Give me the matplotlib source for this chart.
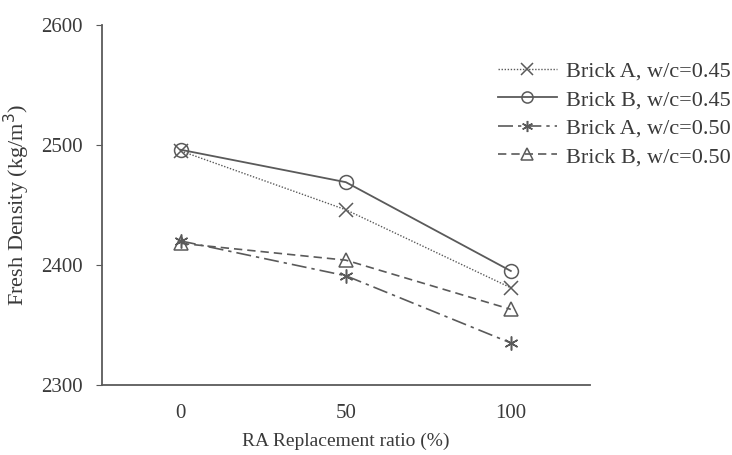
import matplotlib

matplotlib.use("Agg")
import matplotlib.pyplot as plt

plt.rcParams["font.family"] = ["Liberation Serif", "DejaVu Serif"]

ratio = [0, 50, 100]
brick_a_045 = [2495, 2446, 2381]
brick_b_045 = [2496, 2469, 2395]
brick_a_050 = [2420, 2391, 2335]
brick_b_050 = [2418, 2404, 2363]
labels = ["Brick A, w/c=0.45", "Brick B, w/c=0.45", "Brick A, w/c=0.50", "Brick B, w/c=0.50"]

LC = "#5a5a5a"
TC = "#3a3a3a"

fig = plt.figure(figsize=(7.32, 4.55), dpi=100)
ax = fig.add_axes([0.139, 0.154, 0.667, 0.791])

common = dict(color=LC, markerfacecolor="none", markeredgecolor=LC, markersize=10, markeredgewidth=1.1)
ax.plot(ratio, brick_a_045, linestyle=(0, (1, 1.2)), lw=1.0, marker="x", label=labels[0], **common)
ax.plot(ratio, brick_b_045, linestyle="-", lw=1.3, marker="o", label=labels[1], **common)
ax.plot(ratio, brick_a_050, linestyle=(0, (9, 3, 2, 3)), lw=1.2, marker=(6, 2, 0), label=labels[2], **common)
ax.plot(ratio, brick_b_050, linestyle=(0, (5, 3)), lw=1.2, marker="^", label=labels[3], **common)

ax.set_xlim(-24, 124)
ax.set_ylim(2300, 2600)
ax.set_xticks(ratio)
ax.set_yticks([2300, 2400, 2500, 2600])
ax.tick_params(axis="x", length=0, pad=14, labelsize=15, labelcolor=TC)
ax.tick_params(axis="y", length=4, direction="out", color=LC, pad=10, labelsize=15, labelcolor=TC)
for s in ("top", "right"):
    ax.spines[s].set_visible(False)
for s in ("left", "bottom"):
    ax.spines[s].set_color(LC)
    ax.spines[s].set_linewidth(1.3)

ax.set_xlabel("RA Replacement ratio (%)", fontsize=14, color=TC, labelpad=7)
ax.set_ylabel("Fresh Density (kg/m$^3$)", fontsize=16, color=TC, labelpad=6)

leg = ax.legend(loc="upper left", bbox_to_anchor=(0.680, 0.866), bbox_transform=fig.transFigure,
                frameon=False, fontsize=16, handlelength=2.65, labelspacing=0.36, handletextpad=0.4,
                borderpad=0, borderaxespad=0, markerscale=0.8)
for t in leg.get_texts():
    t.set_color(TC)

fig.savefig("out.png", dpi=100)
